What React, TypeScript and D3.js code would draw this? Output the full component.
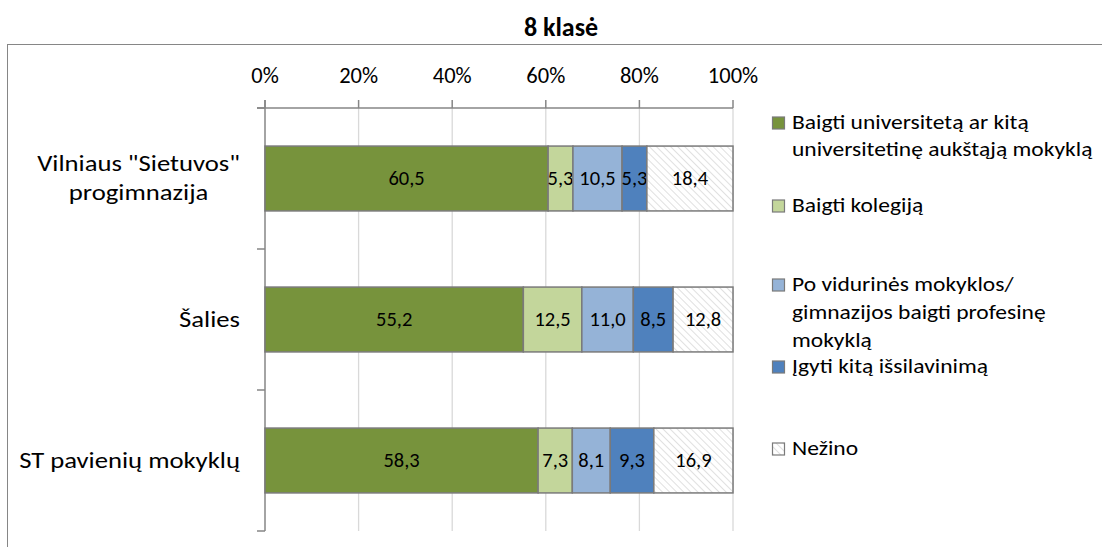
import React from "react";
import * as d3 from "d3";

const title = "8 klasė";
const categories = ["Vilniaus \"Sietuvos\" progimnazija", "Šalies", "ST pavienių mokyklų"];
const categoryLines = [["Vilniaus \"Sietuvos\"", "progimnazija"], ["Šalies"], ["ST pavienių mokyklų"]];
const seriesNames = [
  "Baigti universitetą ar kitą universitetinę aukštąją mokyklą",
  "Baigti kolegiją",
  "Po vidurinės mokyklos/ gimnazijos baigti profesinę mokyklą",
  "Įgyti kitą išsilavinimą",
  "Nežino",
];
const legendLines = [
  ["Baigti universitetą ar kitą", "universitetinę aukštąją mokyklą"],
  ["Baigti kolegiją"],
  ["Po vidurinės mokyklos/", "gimnazijos baigti profesinę", "mokyklą"],
  ["Įgyti kitą išsilavinimą"],
  ["Nežino"],
];
const universitetas = [60.5, 55.2, 58.3];
const kolegija = [5.3, 12.5, 7.3];
const profesine = [10.5, 11.0, 8.1];
const kita = [5.3, 8.5, 9.3];
const nezino = [18.4, 12.8, 16.9];
const tickValues = [0, 0.2, 0.4, 0.6, 0.8, 1];
const colors = ["#77933C", "#C3D69B", "#95B3D7", "#4F81BD", "url(#hatch)"];

const FONT = "Carlito, 'Open Sans', sans-serif";

function SText(props: { x: number; y: number; sx?: number; anchor?: string; size: number; weight?: string; children: any }) {
  const { x, y, sx = 1, anchor = "start", size, weight, children } = props;
  return (
    <g transform={`translate(${x},${y}) scale(${sx},1)`}>
      <text x={0} y={0} textAnchor={anchor as any} fontSize={size} fontWeight={weight} fill="#000">
        {children}
      </text>
    </g>
  );
}

export default function App() {
  const seriesArrays = [universitetas, kolegija, profesine, kita, nezino];
  const rows = categories.map((c, i) => {
    const r: any = { cat: c };
    seriesNames.forEach((s, j) => (r[s] = seriesArrays[j][i]));
    return r;
  });
  const stacked = d3.stack<any>().keys(seriesNames).offset(d3.stackOffsetExpand)(rows);

  const x = d3.scaleLinear().domain([0, 1]).range([265, 733]);
  const y = d3.scaleBand<string>().domain(categories).range([108, 531]).paddingInner(0.54).paddingOuter(0.27);
  const step = (531 - 108) / categories.length;
  const fmt = d3.format(".0%");
  const num = (v: number) => v.toFixed(1).replace(".", ",");

  const legendBase = [[129, 156], [212], [291, 319, 347], [373], [455]];

  // category label block: lines centered on each other, block right-aligned
  const catSize = 22.8;
  const catSx = 1.17;
  const labelRight = 240;
  const measure = (s: string) => {
    if (typeof document === "undefined") return s.length * 10;
    const c = document.createElement("canvas").getContext("2d")!;
    c.font = `${catSize}px Carlito, 'Open Sans', sans-serif`;
    return c.measureText(s).width * catSx;
  };

  return (
    <svg width={1102} height={547} style={{ position: "absolute", left: 0, top: 0 }} fontFamily={FONT}>
      <defs>
        <pattern id="hatch" patternUnits="userSpaceOnUse" width={5} height={5} patternTransform="rotate(-45)">
          <rect width={5} height={5} fill="#ffffff" />
          <line x1={0} y1={0} x2={0} y2={5} stroke="#d9d9d9" strokeWidth={1.6} />
        </pattern>
      </defs>
      <rect x={0} y={0} width={1102} height={547} fill="#fff" />
      <rect x={7.5} y={44.5} width={1200} height={600} fill="none" stroke="#868686" strokeWidth={1} />
      <SText x={561} y={36} anchor="middle" size={26} weight="bold">{title}</SText>

      {/* gridlines */}
      {tickValues.slice(1).map((t) => (
        <line key={t} x1={x(t)} x2={x(t)} y1={108} y2={531} stroke="#d9d9d9" strokeWidth={1.3} />
      ))}
      {/* axes */}
      <line x1={257} x2={733} y1={108} y2={108} stroke="#868686" strokeWidth={1.5} />
      <line x1={265} x2={265} y1={100} y2={531} stroke="#868686" strokeWidth={1.5} />
      {tickValues.map((t) => (
        <g key={t}>
          <line x1={x(t)} x2={x(t)} y1={100} y2={108} stroke="#868686" strokeWidth={1.5} />
          <SText x={x(t)} y={83} anchor="middle" size={22.5}>{fmt(t)}</SText>
        </g>
      ))}
      {d3.range(categories.length + 1).map((i) => (
        <line key={i} x1={257} x2={265} y1={108 + i * step} y2={108 + i * step} stroke="#868686" strokeWidth={1.5} />
      ))}

      {/* category labels */}
      {categories.map((c, i) => {
        const cy = (y(c) as number) + y.bandwidth() / 2;
        const lines = categoryLines[i];
        const lh = 29;
        const w = Math.max(...lines.map(measure));
        const cx = labelRight - w / 2;
        return (
          <g key={c}>
            {lines.map((l, k) => (
              <SText key={k} x={cx} y={cy - ((lines.length - 1) * lh) / 2 + k * lh + 7} sx={catSx} anchor="middle" size={catSize}>
                {l}
              </SText>
            ))}
          </g>
        );
      })}

      {/* bars */}
      {stacked.map((s, j) => (
        <g key={s.key}>
          {s.map((d, i) => {
            const x0 = x(d[0]);
            const x1 = x(d[1]);
            const yy = y(categories[i]) as number;
            return (
              <g key={i}>
                <rect x={x0} y={yy} width={x1 - x0} height={y.bandwidth()} fill={colors[j]} stroke="#7a7a7a" strokeWidth={1.5} />
                <SText x={(x0 + x1) / 2} y={yy + y.bandwidth() / 2 + 6.5} anchor="middle" size={20.5}>
                  {num(seriesArrays[j][i])}
                </SText>
              </g>
            );
          })}
        </g>
      ))}

      {/* legend */}
      {legendLines.map((lines, j) => (
        <g key={j}>
          <rect x={772.5} y={legendBase[j][0] - 12} width={12} height={12} fill={colors[j]} stroke="#7a7a7a" strokeWidth={1.2} />
          {lines.map((l, k) => (
            <SText key={k} x={792} y={legendBase[j][k]} sx={1.165} size={20.2}>{l}</SText>
          ))}
        </g>
      ))}
    </svg>
  );
}
